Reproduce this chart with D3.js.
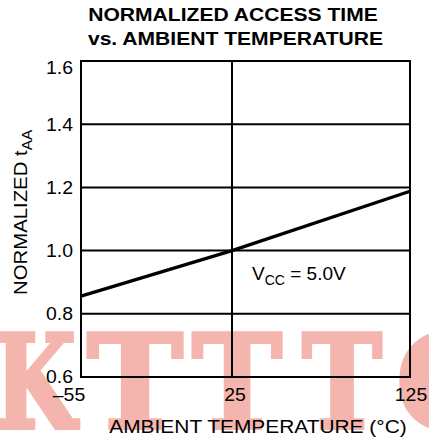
<!DOCTYPE html>
<html>
<head>
<meta charset="utf-8">
<script src="https://cdn.jsdelivr.net/npm/d3@7"></script>
<style>
  body { margin: 0; background: #fff; }
  text { font-family: "Liberation Sans", Arial, sans-serif; fill: #000; }
</style>
</head>
<body>
<div id="chart"></div>
<script>
// Data
let temps = [-55, 25, 125];
let normTaa = [0.856, 1.0, 1.188];
let xTicks = [-55, 25, 125];
let xTickLabels = ['\u201355', '25', '125'];
let yTicks = [0.6, 0.8, 1.0, 1.2, 1.4, 1.6];

let data = temps.map(function (t, i) { return { temp: t, taa: normTaa[i] }; });

let W = 429, H = 444;
let margin = { top: 61, right: 19, bottom: 67, left: 81 };
let width = W - margin.left - margin.right,
    height = H - margin.top - margin.bottom;

// x is drawn with 25 a bit right of the linear spot, as in the original
let x = d3.scaleLinear().domain([-55, 25, 125]).range([0, 151, width]);
let y = d3.scaleLinear().domain([0.6, 1.6]).range([height, 0]);

let svg = d3.select('#chart').append('svg')
    .attr('width', W)
    .attr('height', H);

// the original font runs a bit wider than Arial, so stretch text horizontally
function wideText(parent, tx, ty, sx, rot) {
    return parent.append('g')
        .attr('transform', 'translate(' + tx + ',' + ty + ')' +
            (rot ? ' rotate(' + rot + ')' : '') + ' scale(' + sx + ',1)')
        .append('text');
}

// watermark
let wm = svg.append('g').attr('opacity', 0.4);
[['K', -6, 82], ['T', 87, 96], ['T', 192, 90], ['T', 302, 80], ['C', 396, 100]]
    .forEach(function (l) {
        wm.append('text')
            .attr('x', l[1]).attr('y', 428)
            .attr('textLength', l[2])
            .attr('lengthAdjust', 'spacingAndGlyphs')
            .style('font-family', '"DejaVu Serif", serif')
            .style('font-weight', 'bold')
            .style('font-size', '130px')
            .style('fill', '#e34834')
            .style('stroke', '#e34834')
            .style('stroke-width', 4)
            .text(l[0]);
    });

let g = svg.append('g')
    .attr('transform', 'translate(' + margin.left + ',' + margin.top + ')');

// grid
g.selectAll('.hgrid').data(yTicks).enter().append('line')
    .attr('x1', 0).attr('x2', width)
    .attr('y1', function (d) { return y(d); })
    .attr('y2', function (d) { return y(d); })
    .attr('stroke', '#000').attr('stroke-width', 2);

g.selectAll('.vgrid').data(xTicks).enter().append('line')
    .attr('x1', function (d) { return x(d); })
    .attr('x2', function (d) { return x(d); })
    .attr('y1', -1).attr('y2', height + 1)
    .attr('stroke', '#000').attr('stroke-width', 2);

// curve
let line = d3.line()
    .x(function (d) { return x(d.temp); })
    .y(function (d) { return y(d.taa); });

g.append('path')
    .datum(data)
    .attr('fill', 'none')
    .attr('stroke', '#000')
    .attr('stroke-width', 3.2)
    .attr('d', line);

// y tick labels
yTicks.forEach(function (d) {
    wideText(g, -8, y(d), 1.08)
        .attr('dy', d === 1.6 ? '0.72em' : '0.36em')
        .attr('text-anchor', 'end')
        .style('font-size', '18px')
        .text(d.toFixed(1));
});

// x tick labels
let xShift = [-12, 3, 1];
xTicks.forEach(function (d, i) {
    wideText(g, x(d) + xShift[i], height + 24, 1.08)
        .attr('text-anchor', 'middle')
        .style('font-size', '18px')
        .text(xTickLabels[i]);
});

// annotation
let ann = g.append('text')
    .attr('x', 171).attr('y', 219)
    .style('font-size', '19px');
ann.append('tspan').text('V');
ann.append('tspan').attr('dy', 5).style('font-size', '14px').text('CC');
ann.append('tspan').attr('dy', -5).text(' = 5.0V');

// titles
wideText(svg, 233, 21, 1.11)
    .attr('text-anchor', 'middle')
    .style('font-size', '19px').style('font-weight', 'bold')
    .text('NORMALIZED ACCESS TIME');
wideText(svg, 235.5, 45, 1.11)
    .attr('text-anchor', 'middle')
    .style('font-size', '19px').style('font-weight', 'bold')
    .text('vs. AMBIENT TEMPERATURE');

wideText(svg, 258, 433, 1.1)
    .attr('text-anchor', 'middle')
    .style('font-size', '19px')
    .text('AMBIENT TEMPERATURE (\u00b0C)');

let yt = wideText(svg, 27, 295, 1.1, -90)
    .style('font-size', '18.5px');
yt.append('tspan').text('NORMALIZED t');
yt.append('tspan').attr('dy', 5).style('font-size', '14px').text('AA');
</script>
</body>
</html>
